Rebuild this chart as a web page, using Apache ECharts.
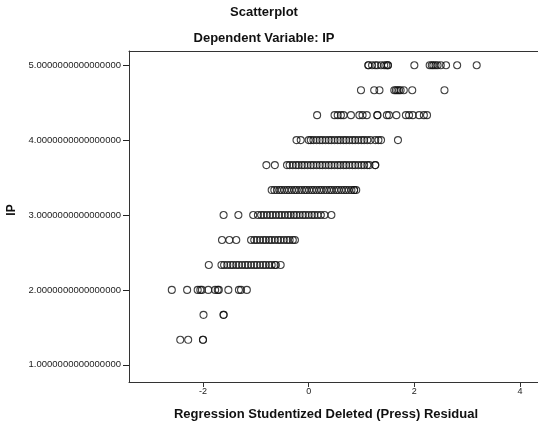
<!DOCTYPE html>
<html>
<head>
<meta charset="utf-8">
<script src="https://cdn.jsdelivr.net/npm/echarts@6/dist/echarts.min.js"></script>
<style>
html,body{margin:0;padding:0;background:#fff;}
#chart{width:538px;height:425px;}
</style>
</head>
<body>
<div id="chart"></div>
<script>
// Dependent variable levels (rows) and studentized deleted residuals
var ipLevels = [5.0, 4.6667, 4.3333, 4.0, 3.6667, 3.3333, 3.0, 2.6667, 2.3333, 2.0, 1.6667, 1.3333];

var resid_5_000 = [1.13, 1.13, 1.20, 1.26, 1.30, 1.37, 1.43, 1.47, 1.50, 1.50, 2.00, 2.29, 2.33, 2.36, 2.40, 2.44, 2.50, 2.60, 2.81, 3.18];
var resid_4_667 = [0.99, 1.24, 1.34, 1.62, 1.65, 1.68, 1.71, 1.74, 1.80, 1.96, 2.57];
var resid_4_333 = [0.16, 0.49, 0.55, 0.61, 0.66, 0.80, 0.96, 1.02, 1.10, 1.30, 1.30, 1.48, 1.52, 1.66, 1.84, 1.90, 1.97, 2.09, 2.18, 2.24];
var resid_4_000 = [-0.23, -0.15, 0.00, 0.04, 0.09, 0.15, 0.21, 0.26, 0.32, 0.38, 0.43, 0.49, 0.55, 0.60, 0.66, 0.71, 0.77, 0.83, 0.88, 0.94, 1.00, 1.05, 1.11, 1.17, 1.26, 1.32, 1.37, 1.69];
var resid_3_667 = [-0.80, -0.64, -0.41, -0.36, -0.30, -0.24, -0.19, -0.13, -0.08, -0.02, 0.04, 0.09, 0.15, 0.21, 0.26, 0.32, 0.38, 0.43, 0.49, 0.55, 0.60, 0.66, 0.71, 0.77, 0.83, 0.88, 0.94, 1.00, 1.05, 1.11, 1.15, 1.26, 1.26];
var resid_3_333 = [-0.70, -0.65, -0.60, -0.55, -0.51, -0.46, -0.41, -0.37, -0.32, -0.27, -0.23, -0.18, -0.13, -0.08, -0.04, 0.01, 0.06, 0.10, 0.15, 0.20, 0.24, 0.29, 0.34, 0.39, 0.43, 0.48, 0.53, 0.57, 0.62, 0.67, 0.71, 0.76, 0.81, 0.86, 0.86, 0.90];
var resid_3_000 = [-1.61, -1.33, -1.05, -0.96, -0.90, -0.85, -0.79, -0.73, -0.68, -0.62, -0.56, -0.51, -0.45, -0.39, -0.34, -0.28, -0.23, -0.17, -0.11, -0.06, 0.00, 0.06, 0.11, 0.17, 0.23, 0.30, 0.43];
var resid_2_667 = [-1.64, -1.50, -1.37, -1.09, -1.03, -0.98, -0.92, -0.86, -0.81, -0.75, -0.70, -0.64, -0.58, -0.53, -0.47, -0.41, -0.36, -0.30, -0.26];
var resid_2_333 = [-1.89, -1.65, -1.60, -1.54, -1.48, -1.43, -1.37, -1.32, -1.26, -1.20, -1.15, -1.09, -1.03, -0.98, -0.92, -0.86, -0.81, -0.75, -0.70, -0.64, -0.62, -0.53];
var resid_2_000 = [-2.59, -2.30, -2.10, -2.05, -2.02, -1.90, -1.77, -1.72, -1.70, -1.52, -1.32, -1.28, -1.17];
var resid_1_667 = [-1.99, -1.61, -1.61];
var resid_1_333 = [-2.43, -2.28, -2.00, -2.00];

var residRows = [resid_5_000, resid_4_667, resid_4_333, resid_4_000, resid_3_667, resid_3_333,
                 resid_3_000, resid_2_667, resid_2_333, resid_2_000, resid_1_667, resid_1_333];

var xTicks = [-2, 0, 2, 4];
var yTicks = [1, 2, 3, 4, 5];

var titleText = 'Scatterplot';
var subtitleText = 'Dependent Variable: IP';
var xTitle = 'Regression Studentized Deleted (Press) Residual';
var yTitle = 'IP';

var points = [];
residRows.forEach(function (row, i) {
  row.forEach(function (r) { points.push([r, ipLevels[i]]); });
});

var chart = echarts.init(document.getElementById('chart'), null, {renderer: 'canvas'});
var font = '"Liberation Sans", Arial, sans-serif';
var lineColor = '#333';

chart.setOption({
  animation: false,
  backgroundColor: '#fff',
  grid: {left: 129, top: 51, right: 0, bottom: 43, show: false},
  xAxis: [{
    type: 'value', min: -3.40, max: 4.34,
    axisLine: {show: true, onZero: false, lineStyle: {color: lineColor, width: 1}},
    axisTick: {show: true, length: 5, lineStyle: {color: lineColor}, customValues: xTicks},
    axisLabel: {show: true, margin: 5, color: '#222', fontSize: 9, fontFamily: font, customValues: xTicks,
      formatter: function (v) { return String(v); }},
    splitLine: {show: false}
  }, {
    type: 'value', min: -3.40, max: 4.34, position: 'top',
    axisLine: {show: true, onZero: false, lineStyle: {color: lineColor, width: 1}},
    axisTick: {show: false}, axisLabel: {show: false}, splitLine: {show: false}
  }],
  yAxis: {
    type: 'value', min: 0.77, max: 5.19,
    axisLine: {show: true, onZero: false, lineStyle: {color: lineColor, width: 1}},
    axisTick: {show: true, length: 6, lineStyle: {color: '#222'}, customValues: yTicks},
    axisLabel: {show: true, margin: 8, color: '#222', fontSize: 9.5, fontFamily: font, customValues: yTicks,
      formatter: function (v) { return Number(v).toFixed(16); }},
    splitLine: {show: false}
  },
  series: [{
    type: 'scatter',
    data: points,
    symbol: 'circle',
    symbolSize: 7,
    itemStyle: {color: 'rgba(0,0,0,0)', borderColor: '#111', borderWidth: 1.1},
    emphasis: {disabled: true},
    silent: true
  }],
  graphic: [
    {type: 'text', x: 264, y: 12, style: {text: titleText, font: 'bold 13px ' + font, fill: '#111', align: 'center', verticalAlign: 'middle'}},
    {type: 'text', x: 264, y: 38, style: {text: subtitleText, font: 'bold 13px ' + font, fill: '#111', align: 'center', verticalAlign: 'middle'}},
    {type: 'text', x: 326, y: 414, style: {text: xTitle, font: 'bold 13px ' + font, fill: '#111', align: 'center', verticalAlign: 'middle'}},
    {type: 'text', x: 12, y: 210, rotation: Math.PI / 2, style: {text: yTitle, font: 'bold 12px ' + font, fill: '#111', align: 'center', verticalAlign: 'middle'}}
  ]
});
</script>
</body>
</html>
